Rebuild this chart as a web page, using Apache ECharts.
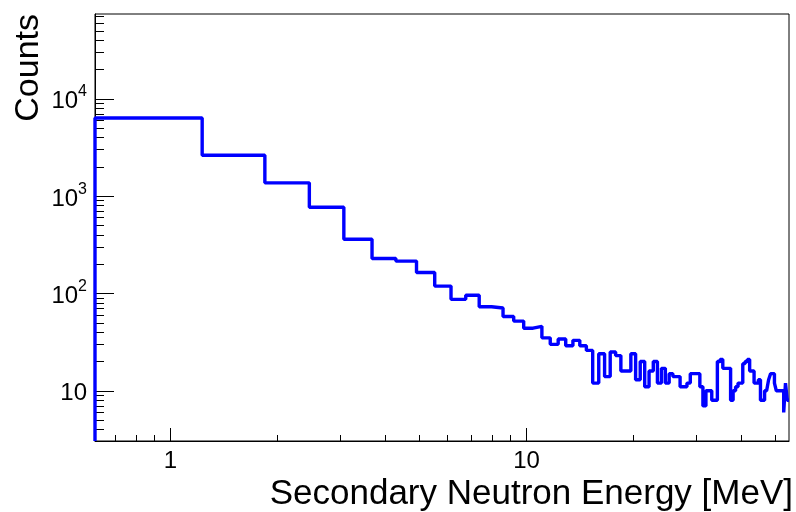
<!DOCTYPE html>
<html>
<head>
<meta charset="utf-8">
<script src="https://cdn.jsdelivr.net/npm/echarts@6/dist/echarts.min.js"></script>
<style>
  html, body { margin: 0; padding: 0; background: #fff; }
  #chart { width: 796px; height: 512px; }
</style>
</head>
<body>
<div id="chart"></div>
<script>
// Secondary neutron energy spectrum: uniform bins, log-log display.
const binWidth = 0.6135;          // MeV per bin
const firstEdgeIndex = 1;         // first bin edge shown on the log axis (k * binWidth)

// Counts per bin, starting at the bin [binWidth, 2*binWidth]
const counts = [
  6350, 2630, 1370, 770, 360, 229, 215, 164, 119, 87,
  96, 73, 71, 58, 52, 44, 46, 35, 30, 34,
  29, 33, 29, 26, 12, 24, 14, 25, 23, 16,
  16, 24, 13, 20, 11, 16, 20, 12, 17, 12,
  15, 14, 14, 11, 11, 12, 15, 15, 15, 11,
  7, 10, 10, 8, 8, 20, 21, 17, 17, 17,
  8, 10, 11, 12, 12, 19, 20, 21, 16, 16,
  12, 12, 13, 8, 8, 10, 10, 13, 15, 15,
  12, 10, 10, 10, 10, 6, 12, 8
];

const xRange = [0.6135, 54.6];
const yRange = [3.05, 74350];

const xMajorTicks = [1, 10];
const xMinorTicks = [0.7, 0.8, 0.9, 2, 3, 4, 5, 6, 7, 8, 9, 20, 30, 40, 50];
const yMajorTicks = [10, 100, 1000, 10000];
const yMinorTicks = [
  4, 5, 6, 7, 8, 9,
  20, 30, 40, 50, 60, 70, 80, 90,
  200, 300, 400, 500, 600, 700, 800, 900,
  2000, 3000, 4000, 5000, 6000, 7000, 8000, 9000,
  20000, 30000, 40000, 50000, 60000, 70000
];

const xTitle = 'Secondary Neutron Energy [MeV]';
const yTitle = 'Counts';

// Histogram outline: rise from the axis floor at the first edge, then one point per bin.
const outline = [[firstEdgeIndex * binWidth, yRange[0]]];
counts.forEach((c, i) => {
  outline.push([(firstEdgeIndex + i) * binWidth, c]);
});
outline.push([(firstEdgeIndex + counts.length) * binWidth, counts[counts.length - 1]]);

const FONT = '"Liberation Sans", Arial, Helvetica, sans-serif';

const baseX = {
  type: 'log', logBase: 10, min: xRange[0], max: xRange[1],
  gridIndex: 0, position: 'bottom',
  splitLine: { show: false }, minorTick: { show: false }, minorSplitLine: { show: false }
};
const baseY = {
  type: 'log', logBase: 10, min: yRange[0], max: yRange[1],
  gridIndex: 0, position: 'left',
  splitLine: { show: false }, minorTick: { show: false }, minorSplitLine: { show: false }
};

const chart = echarts.init(document.getElementById('chart'), null, { renderer: 'canvas' });
chart.setOption({
  animation: false,
  backgroundColor: '#ffffff',
  grid: {
    left: 95, top: 14, width: 696, height: 428,
    show: true, borderColor: '#000', borderWidth: 1, backgroundColor: 'transparent'
  },
  xAxis: [
    Object.assign({}, baseX, {
      axisLine: { show: true, lineStyle: { color: '#000', width: 1 } },
      axisTick: { show: true, inside: true, length: 13, customValues: xMajorTicks, lineStyle: { color: '#000' } },
      axisLabel: {
        show: true, customValues: xMajorTicks, margin: 8,
        fontFamily: FONT, fontSize: 24, color: '#000',
        formatter: v => String(Math.round(v))
      },
      name: xTitle, nameLocation: 'end', nameGap: 4,
      nameTextStyle: {
        fontFamily: FONT, fontSize: 35, color: '#000',
        align: 'right', verticalAlign: 'top', padding: [36, 0, 0, 0]
      }
    }),
    Object.assign({}, baseX, {
      axisLine: { show: false },
      axisTick: { show: true, inside: true, length: 6, customValues: xMinorTicks, lineStyle: { color: '#000' } },
      axisLabel: { show: false }
    })
  ],
  yAxis: [
    Object.assign({}, baseY, {
      axisLine: { show: true, lineStyle: { color: '#000', width: 1 } },
      axisTick: { show: true, inside: true, length: 19, customValues: yMajorTicks, lineStyle: { color: '#000' } },
      axisLabel: {
        show: true, customValues: yMajorTicks, margin: 8,
        formatter: v => {
          const p = Math.round(Math.log10(v));
          return p === 1 ? '{b|10}' : '{b|10}{e|' + p + '}';
        },
        rich: {
          b: { fontFamily: FONT, fontSize: 24, color: '#000', verticalAlign: 'bottom', lineHeight: 30 },
          e: { fontFamily: FONT, fontSize: 16, color: '#000', verticalAlign: 'top', lineHeight: 16 }
        }
      },
      name: yTitle, nameLocation: 'end', nameGap: 0, nameRotate: 90,
      nameTextStyle: {
        fontFamily: FONT, fontSize: 34, color: '#000',
        align: 'right', verticalAlign: 'bottom', padding: [0, 0, 49, 0]
      }
    }),
    Object.assign({}, baseY, {
      axisLine: { show: false },
      axisTick: { show: true, inside: true, length: 9, customValues: yMinorTicks, lineStyle: { color: '#000' } },
      axisLabel: { show: false }
    })
  ],
  series: [{
    type: 'line',
    xAxisIndex: 0, yAxisIndex: 0,
    data: outline,
    step: 'end',
    symbol: 'none', showSymbol: false,
    lineStyle: { color: '#0000ff', width: 3.4 },
    clip: true
  }]
});
</script>
</body>
</html>
